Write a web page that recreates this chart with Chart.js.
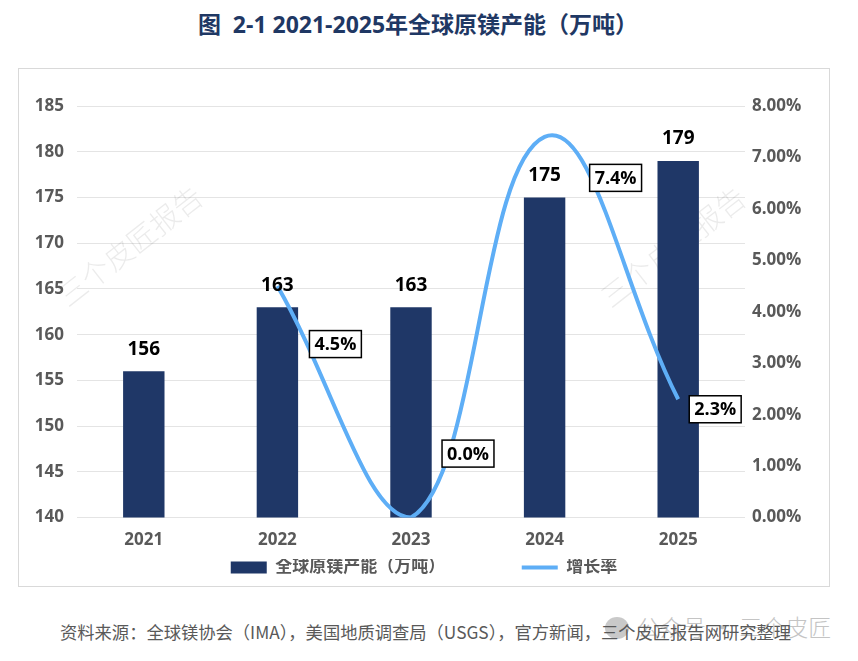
<!DOCTYPE html>
<html>
<head>
<meta charset="utf-8">
<script src="https://cdn.jsdelivr.net/npm/chart.js@4"></script>
<style>
    body {
        margin: 0;
        width: 858px;
        height: 661px;
        background: #fff;
        position: relative;
        overflow: hidden;
        font-family: "Open Sans", "Noto Sans CJK SC", sans-serif;
    }
    #title {
        position: absolute;
        left: 0;
        top: 6px;
        width: 836px;
        text-align: center;
        font-size: 23px;
        font-weight: bold;
        color: #1f3864;
    }
    #box {
        position: absolute;
        left: 18px;
        top: 68px;
        width: 810px;
        height: 517px;
        border: 1px solid #d9d9d9;
    }
    #wechat {
        position: absolute;
        left: 605px;
        top: 609px;
        font-size: 23px;
        color: #c4c4c4;
        font-family: "Noto Sans CJK SC", sans-serif;
        font-weight: 300;
        white-space: nowrap;
    }
    #wechat .icon {
        display: inline-block;
        width: 24px;
        height: 22px;
        border-radius: 50%;
        background: #c9c9c9;
        vertical-align: -3px;
        margin-right: 8px;
    }
    #source {
        position: absolute;
        left: 60px;
        top: 619px;
        font-size: 17.3px;
        color: #595959;
        font-family: "Noto Sans CJK SC", sans-serif;
        white-space: nowrap;
    }
</style>
</head>
<body>
<div id="title">图&nbsp; 2-1 2021-2025年全球原镁产能（万吨）</div>
<div id="box"><canvas id="chart-capacity"></canvas></div>
<div id="wechat"><span class="icon"></span>公众号 · 三个皮匠</div>
<div id="source">资料来源：全球镁协会（IMA），美国地质调查局（USGS），官方新闻，三个皮匠报告网研究整理</div>
<script>
const years = ["2021", "2022", "2023", "2024", "2025"];
const capacity = [156, 163, 163, 175, 179];
const growthRate = [null, 4.5, 0.0, 7.4, 2.3];
const leftTicks = [140, 145, 150, 155, 160, 165, 170, 175, 180, 185];
const rightTicks = [0, 1, 2, 3, 4, 5, 6, 7, 8];

const barColor = "#1f3767";
const lineColor = "#5eaef6";
const tickFont = { family: "'Open Sans', 'Noto Sans CJK SC', sans-serif", size: 17, weight: "bold" };
// where each rate box sits relative to its point
const rateLabelOffsets = [null, [58, 58], [57, -64], [71, 41], [37, 10]];

const watermark = {
    id: "watermark",
    beforeDatasetsDraw(chart) {
        const ctx = chart.ctx;
        ctx.save();
        ctx.fillStyle = "rgba(0,0,0,0.08)";
        ctx.font = "300 29px 'Noto Sans CJK SC', sans-serif";
        ctx.textAlign = "center";
        ctx.textBaseline = "middle";
        [[111, 177], [654, 178]].forEach(function (p) {
            ctx.save();
            ctx.translate(p[0], p[1]);
            ctx.rotate(-38 * Math.PI / 180);
            ctx.fillText("三个皮匠报告", 0, 0);
            ctx.restore();
        });
        ctx.restore();
    },
};

const valueLabels = {
    id: "valueLabels",
    afterDatasetsDraw(chart) {
        const ctx = chart.ctx;
        ctx.save();
        ctx.textAlign = "center";
        ctx.textBaseline = "middle";

        ctx.font = "bold 19px 'Open Sans', sans-serif";
        ctx.fillStyle = "#000";
        chart.getDatasetMeta(0).data.forEach(function (bar, i) {
            ctx.fillText(String(capacity[i]), bar.x, bar.y - 22);
        });

        ctx.font = "bold 18px 'Open Sans', sans-serif";
        chart.getDatasetMeta(1).data.forEach(function (pt, i) {
            if (growthRate[i] == null) return;
            var text = growthRate[i].toFixed(1) + "%";
            var w = ctx.measureText(text).width + 10;
            var h = 27;
            var cx = pt.x + rateLabelOffsets[i][0];
            var cy = pt.y + rateLabelOffsets[i][1];
            ctx.fillStyle = "#fff";
            ctx.fillRect(cx - w / 2, cy - h / 2, w, h);
            ctx.lineWidth = 1.5;
            ctx.strokeStyle = "#000";
            ctx.strokeRect(cx - w / 2, cy - h / 2, w, h);
            ctx.fillStyle = "#000";
            ctx.fillText(text, cx, cy + 1);
        });
        ctx.restore();
    },
};

const ctx = document.getElementById("chart-capacity").getContext("2d");

new Chart(ctx, {
    data: {
        labels: years,
        datasets: [
            {
                type: "bar",
                label: "全球原镁产能（万吨）",
                data: capacity,
                backgroundColor: barColor,
                borderWidth: 0,
                barPercentage: 0.31,
                categoryPercentage: 1,
                yAxisID: "y",
                order: 1,
            },
            {
                type: "line",
                label: "增长率",
                data: growthRate,
                borderColor: lineColor,
                backgroundColor: lineColor,
                borderWidth: 4,
                pointRadius: 0,
                tension: 0.42,
                yAxisID: "y1",
                order: 0,
            },
        ],
    },
    options: {
        animation: false,
        responsive: true,
        maintainAspectRatio: false,
        layout: {
            padding: { top: 37, bottom: 0, left: 0, right: 0 },
        },
        scales: {
            x: {
                grid: { display: false },
                border: { display: false },
                ticks: { color: "#595959", font: tickFont, padding: 4 },
                afterFit: function (axis) {
                    axis.height = axis.height + 5;
                },
            },
            y: {
                position: "left",
                min: 140,
                max: 185,
                afterBuildTicks: function (axis) {
                    axis.ticks = leftTicks.map(function (v) { return { value: v }; });
                },
                afterFit: function (axis) {
                    axis.width = 58;
                },
                grid: { color: "#e4e4e4", drawTicks: false },
                border: { display: false },
                ticks: { color: "#595959", font: tickFont, padding: 13 },
            },
            y1: {
                position: "right",
                min: 0,
                max: 8,
                afterBuildTicks: function (axis) {
                    axis.ticks = rightTicks.map(function (v) { return { value: v }; });
                },
                afterFit: function (axis) {
                    axis.width = 84;
                },
                grid: { display: false, drawTicks: false },
                border: { display: false },
                ticks: {
                    color: "#595959",
                    font: tickFont,
                    padding: 7,
                    callback: function (v) { return v.toFixed(2) + "%"; },
                },
            },
        },
        plugins: {
            legend: {
                position: "bottom",
                labels: {
                    color: "#595959",
                    font: tickFont,
                    usePointStyle: true,
                    pointStyleWidth: 36,
                    boxWidth: 36,
                    boxHeight: 12,
                    padding: 0,
                    generateLabels: function (chart) {
                        return [
                            {
                                text: "全球原镁产能（万吨）\u3000\u3000\u3000\u3000\u3000",
                                fillStyle: barColor,
                                strokeStyle: barColor,
                                lineWidth: 0,
                                pointStyle: "rect",
                                datasetIndex: 0,
                                fontColor: "#595959",
                            },
                            {
                                text: "增长率",
                                fillStyle: lineColor,
                                strokeStyle: lineColor,
                                lineWidth: 4,
                                pointStyle: "line",
                                datasetIndex: 1,
                                fontColor: "#595959",
                            },
                        ];
                    },
                },
            },
            tooltip: { enabled: false },
        },
    },
    plugins: [watermark, valueLabels],
});
</script>
</body>
</html>
